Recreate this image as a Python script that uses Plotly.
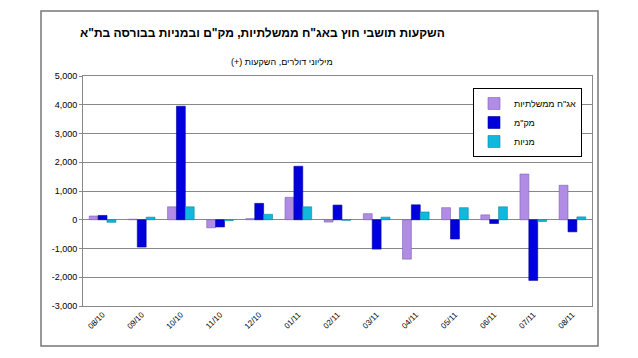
import plotly.graph_objects as go

categories = ["08/10", "09/10", "10/10", "11/10", "12/10", "01/11", "02/11",
              "03/11", "04/11", "05/11", "06/11", "07/11", "08/11"]
gov_bonds = [130, 20, 450, -280, 40, 780, -80, 210, -1370, 420, 170, 1590, 1200]
makam = [150, -950, 3950, -250, 570, 1860, 510, -1020, 520, -670, -130, -2110, -420]
stocks = [-90, 90, 450, -30, 190, 450, -20, 90, 270, 420, 450, -60, 100]
series_names = ['אג"ח ממשלתיות', 'מק"מ', 'מניות']
y_ticks = [-3000, -2000, -1000, 0, 1000, 2000, 3000, 4000, 5000]
y_tick_labels = ["-3,000", "-2,000", "-1,000", "0", "1,000", "2,000", "3,000", "4,000", "5,000"]

colors = ["#B08CE4", "#0000DD", "#10B8DC"]
edges = ["#7E5FB8", "#00009A", "#0888A8"]

fig = go.Figure()
for name, vals, c, e in zip(series_names, [gov_bonds, makam, stocks], colors, edges):
    fig.add_trace(go.Bar(x=categories, y=vals, name=name,
                         marker=dict(color=c, line=dict(color=e, width=0.6))))

W, H = 638, 358
L, R, T, B = 83, 592, 76, 306
pw, ph = R - L, B - T

def px(x):
    return (x - L) / pw

def py(y):
    return (B - y) / ph

fig.update_layout(
    width=W, height=H,
    margin=dict(l=L, r=W - R, t=T, b=H - B, autoexpand=False),
    paper_bgcolor="white", plot_bgcolor="white",
    barmode="group", bargap=0.32, bargroupgap=0.0,
    font=dict(family="Liberation Sans, Arial, sans-serif", color="black"),
    showlegend=True,
    legend=dict(x=px(582), y=py(88), xanchor="right", yanchor="top",
                bgcolor="white", bordercolor="black", borderwidth=1,
                font=dict(size=9), tracegroupgap=0, itemwidth=30),
    xaxis=dict(type="category", tickangle=-45, tickfont=dict(size=8),
               showgrid=False, showline=True, linecolor="#888", mirror=True,
               ticks="", zeroline=False, automargin=False),
    yaxis=dict(range=[-3000, 5000], tickvals=y_ticks, ticktext=y_tick_labels,
               tickfont=dict(size=9), showgrid=True, gridcolor="#888", gridwidth=1,
               showline=True, linecolor="#888", mirror=True, ticks="outside",
               ticklen=3, tickcolor="#888", zeroline=True, zerolinecolor="#888",
               zerolinewidth=1, automargin=False),
    shapes=[dict(type="rect", xref="paper", yref="paper",
                 x0=px(41), x1=px(598), y0=py(346), y1=py(11),
                 line=dict(color="#777", width=1.5), layer="below")],
    annotations=[
        dict(text='<b>השקעות תושבי חוץ באג"ח ממשלתיות, מק"ם ובמניות בבורסה בת"א</b>',
             xref="paper", yref="paper", x=px(262), y=py(33), showarrow=False,
             font=dict(size=12), xanchor="center", yanchor="middle"),
        dict(text='(+) מיליוני דולרים, השקעות',
             xref="paper", yref="paper", x=px(282), y=py(62), showarrow=False,
             font=dict(size=9), xanchor="center", yanchor="middle"),
    ],
)

fig.write_html("out.html", config={"displayModeBar": False},
               post_script="document.body.style.margin='0px';")
